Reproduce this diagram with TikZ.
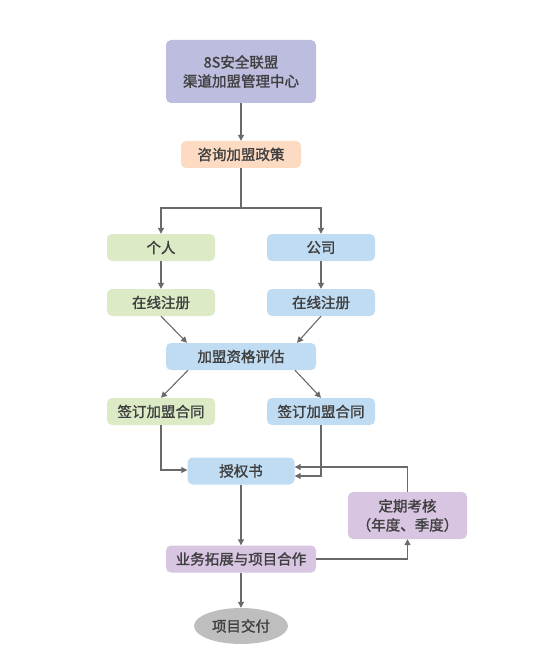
\documentclass[tikz,border=0pt]{standalone}
\usepackage{fontspec}
\setmainfont{Noto Sans CJK SC}[FakeBold=1.3,AutoFakeBold=0]
\newfontfamily\medfont{Noto Sans CJK SC}[FakeBold=1.4]
\usetikzlibrary{arrows.meta,shapes.geometric}
\definecolor{cLav}{HTML}{BDBDE0}
\definecolor{cPeach}{HTML}{FDDAC2}
\definecolor{cGreen}{HTML}{DCEBC6}
\definecolor{cBlue}{HTML}{C0DCF2}
\definecolor{cPurple}{HTML}{D7C5E2}
\definecolor{cGray}{HTML}{BEBEBE}
\definecolor{cText}{HTML}{3F3F3F}
\definecolor{cLine}{HTML}{6A6A6A}
\tikzset{
  box/.style={rounded corners=5pt, draw=none, inner sep=0pt, text=cText, font=\fontsize{14.5}{19}\selectfont\medfont, align=center},
  conn/.style={draw=cLine, line width=1.1pt, -{Triangle[width=6pt,length=6pt]}},
}
\begin{document}
\begin{tikzpicture}[x=1pt,y=-1pt]
\useasboundingbox (0,0) rectangle (550,663);
\node[box, fill=cLav, minimum width=150pt, minimum height=63pt] (top) at (241,71.5) {8S安全联盟\\渠道加盟管理中心};
\node[box, fill=cPeach, minimum width=120pt, minimum height=27pt] (zx) at (241,154.5) {咨询加盟政策};
\node[box, fill=cGreen, minimum width=108pt, minimum height=27pt] (gr) at (161,247.5) {个人};
\node[box, fill=cBlue, minimum width=108pt, minimum height=27pt] (gs) at (321,247.5) {公司};
\node[box, fill=cGreen, minimum width=108pt, minimum height=27pt] (zc1) at (161,302.5) {在线注册};
\node[box, fill=cBlue, minimum width=108pt, minimum height=27pt] (zc2) at (321,302.5) {在线注册};
\node[box, fill=cBlue, minimum width=150pt, minimum height=27pt] (pg) at (241,356.5) {加盟资格评估};
\node[box, fill=cGreen, minimum width=108pt, minimum height=27pt] (ht1) at (161,411.5) {签订加盟合同};
\node[box, fill=cBlue, minimum width=108pt, minimum height=27pt] (ht2) at (321,411.5) {签订加盟合同};
\node[box, fill=cBlue, minimum width=107pt, minimum height=27pt] (sq) at (241,471) {授权书};
\node[box, fill=cPurple, minimum width=119pt, minimum height=47pt] (kh) at (407.5,515.5) {定期考核\\（年度、季度）};
\node[box, fill=cPurple, minimum width=150pt, minimum height=27pt] (yw) at (241,559) {业务拓展与项目合作};
\node[ellipse, fill=cGray, draw=none, inner sep=0pt, minimum width=94pt, minimum height=36pt, text=cText, font=\fontsize{14.5}{19}\selectfont\medfont] (jf) at (241,626) {项目交付};
\coordinate (sp) at (241,208);
\draw[conn] (top) -- (zx);
\draw[draw=cLine, line width=1.1pt] (zx) -- (sp);
\draw[conn] (sp) -| (gr.north);
\draw[conn] (sp) -| (gs.north);
\draw[conn] (gr) -- (zc1);
\draw[conn] (gs) -- (zc2);
\draw[conn] (zc1.south) -- ([xshift=-54pt]pg.north);
\draw[conn] (zc2.south) -- ([xshift=56pt]pg.north);
\draw[conn] ([xshift=-53pt]pg.south) -- (ht1.north);
\draw[conn] ([xshift=54pt]pg.south) -- (ht2.north);
\draw[conn] (ht1.south) |- ([yshift=1pt]sq.west);
\draw[conn] (ht2.south) |- ([yshift=-5pt]sq.east);
\draw[conn] (kh.north) |- ([yshift=4pt]sq.east);
\draw[conn] (sq) -- (yw);
\draw[conn] (yw.east) -| (kh.south);
\draw[conn] (yw) -- (jf);
\end{tikzpicture}
\end{document}
